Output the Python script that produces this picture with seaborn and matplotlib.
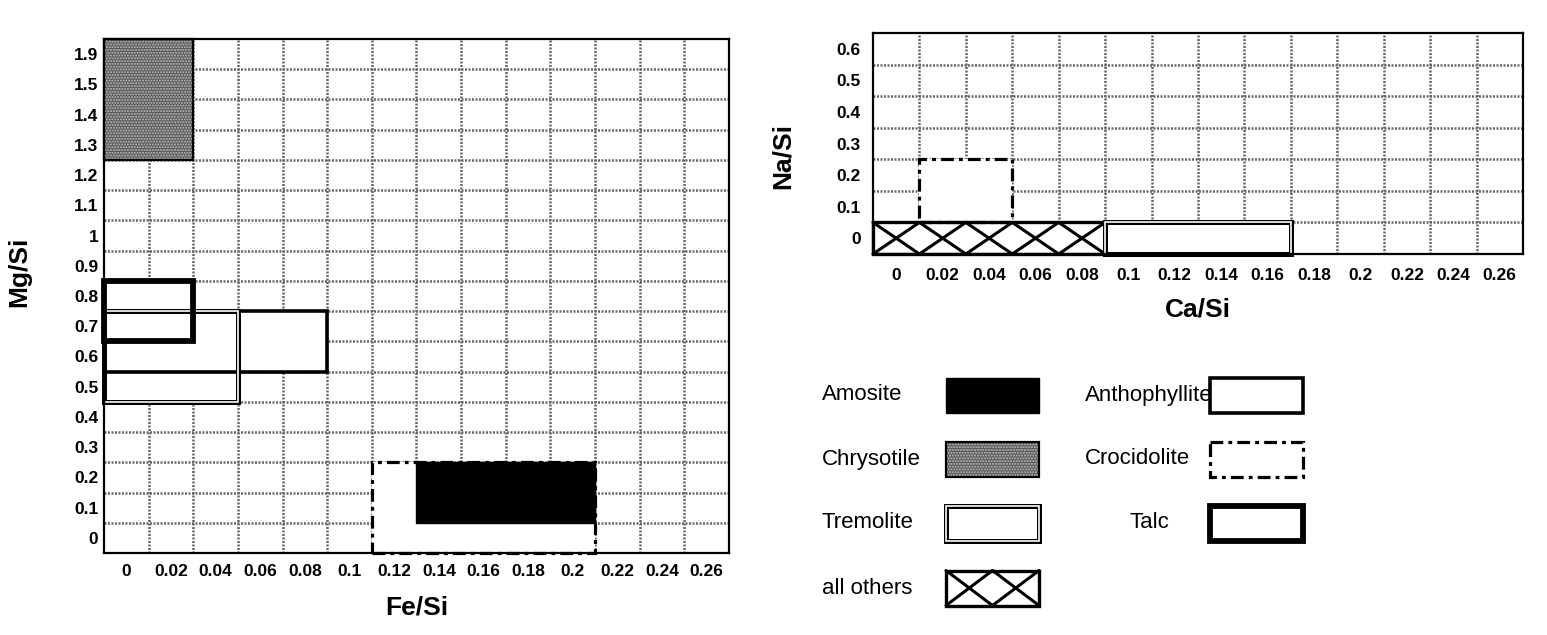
import matplotlib
matplotlib.use("Agg")
import matplotlib.pyplot as plt
from matplotlib.patches import Rectangle
import seaborn as sns

# category labels of both diagrams (y labels listed bottom to top)
FE_LABELS = ["0", "0.02", "0.04", "0.06", "0.08", "0.1", "0.12", "0.14",
             "0.16", "0.18", "0.2", "0.22", "0.24", "0.26"]
MG_LABELS = ["0", "0.1", "0.2", "0.3", "0.4", "0.5", "0.6", "0.7", "0.8",
             "0.9", "1", "1.1", "1.2", "1.3", "1.4", "1.5", "1.9"]
CA_LABELS = ["0", "0.02", "0.04", "0.06", "0.08", "0.1", "0.12", "0.14",
             "0.16", "0.18", "0.2", "0.22", "0.24", "0.26"]
NA_LABELS = ["0", "0.1", "0.2", "0.3", "0.4", "0.5", "0.6"]

# mineral fields in the Fe/Si - Mg/Si diagram (first and last category, inclusive)
FE_MG_FIELDS = ["Tremolite", "Anthophyllite", "Talc", "Crocidolite", "Amosite", "Chrysotile"]
FE_FROM = ["0", "0", "0", "0.12", "0.14", "0"]
FE_TO = ["0.04", "0.08", "0.02", "0.2", "0.2", "0.02"]
MG_FROM = ["0.5", "0.6", "0.7", "0", "0.1", "1.3"]
MG_TO = ["0.7", "0.7", "0.8", "0.2", "0.2", "1.9"]

# mineral fields in the Ca/Si - Na/Si diagram
CA_NA_FIELDS = ["all others", "Tremolite", "Crocidolite"]
CA_FROM = ["0", "0.1", "0.02"]
CA_TO = ["0.08", "0.16", "0.04"]
NA_FROM = ["0", "0", "0.1"]
NA_TO = ["0", "0", "0.2"]

# legend entries, two columns
LEGEND_LEFT = ["Amosite", "Chrysotile", "Tremolite", "all others"]
LEGEND_RIGHT = ["Anthophyllite", "Crocidolite", "Talc"]

sns.set_theme(style="white")
plt.rcParams["font.family"] = ["Liberation Sans", "DejaVu Sans"]
plt.rcParams["text.color"] = "black"
plt.rcParams["axes.labelcolor"] = "black"


#draw one mineral field as a box with its own border / fill style
def draw_field(ax, x0, y0, w, h, name, ncross=1, clip=False):
    kw = dict(clip_on=clip)
    if name == "Amosite":
        ax.add_patch(Rectangle((x0, y0), w, h, facecolor="black", edgecolor="black", lw=1, zorder=5, **kw))
        return
    if name == "Chrysotile":
        ax.add_patch(Rectangle((x0, y0), w, h, facecolor="0.35", edgecolor="0.75", hatch="......", lw=0, zorder=2, **kw))
        ax.add_patch(Rectangle((x0, y0), w, h, fill=False, edgecolor="black", lw=1.6, zorder=3, **kw))
        return
    ax.add_patch(Rectangle((x0, y0), w, h, facecolor="white", lw=0, zorder=2, **kw))
    if name == "Tremolite":
        ax.add_patch(Rectangle((x0, y0), w, h, fill=False, edgecolor="black", lw=3.6, zorder=3, **kw))
        ax.add_patch(Rectangle((x0, y0), w, h, fill=False, edgecolor="white", lw=1.2, zorder=3.1, **kw))
    elif name == "all others":
        step = w / ncross
        for k in range(ncross):
            xa = x0 + k * step
            ax.plot([xa, xa + step], [y0, y0 + h], color="black", lw=2.2, zorder=3, **kw)
            ax.plot([xa, xa + step], [y0 + h, y0], color="black", lw=2.2, zorder=3, **kw)
        ax.add_patch(Rectangle((x0, y0), w, h, fill=False, edgecolor="black", lw=2.4, zorder=3, **kw))
    elif name == "Anthophyllite":
        ax.add_patch(Rectangle((x0, y0), w, h, fill=False, edgecolor="black", lw=2.6, zorder=3, **kw))
    elif name == "Crocidolite":
        ax.add_patch(Rectangle((x0, y0), w, h, fill=False, edgecolor="black", lw=2.3,
                               linestyle=(0, (4, 1.6, 1.2, 1.6)), zorder=3, **kw))
    elif name == "Talc":
        ax.add_patch(Rectangle((x0, y0), w, h, fill=False, edgecolor="black", lw=4.2, zorder=3.5, **kw))


#categorical grid with labels on the cell centres and dotted lines on the cell borders
def setup_grid(ax, xlabels, ylabels, xpad, ypad):
    nx, ny = len(xlabels), len(ylabels)
    ax.set_xlim(-0.5, nx - 0.5)
    ax.set_ylim(-0.5, ny - 0.5)
    ax.set_xticks(range(nx))
    ax.set_xticklabels(xlabels, fontsize=12.5, fontweight="bold")
    ax.set_yticks(range(ny))
    ax.set_yticklabels(ylabels, fontsize=12.5, fontweight="bold")
    ax.set_xticks([i + 0.5 for i in range(nx - 1)], minor=True)
    ax.set_yticks([i + 0.5 for i in range(ny - 1)], minor=True)
    ax.tick_params(which="both", length=0, colors="black")
    ax.tick_params(axis="x", pad=xpad)
    ax.tick_params(axis="y", pad=ypad)
    ax.grid(False, which="major")
    ax.grid(True, which="minor", color="0.4", linestyle=(0, (0.8, 0.6)), lw=1.8)
    ax.set_axisbelow(True)
    for spine in ax.spines.values():
        spine.set_color("black")
        spine.set_linewidth(1.6)
        spine.set_zorder(4)


def add_fields(ax, names, xfrom, xto, yfrom, yto, xlabels, ylabels):
    for name, a, b, c, d in zip(names, xfrom, xto, yfrom, yto):
        i0, i1 = xlabels.index(a), xlabels.index(b)
        j0, j1 = ylabels.index(c), ylabels.index(d)
        draw_field(ax, i0 - 0.5, j0 - 0.5, i1 - i0 + 1, j1 - j0 + 1, name, ncross=i1 - i0 + 1)


fig = plt.figure(figsize=(15.47, 6.35), dpi=100)

# left: Fe/Si vs Mg/Si
ax1 = fig.add_axes([104 / 1547, 82 / 635, 625 / 1547, 514 / 635])
setup_grid(ax1, FE_LABELS, MG_LABELS, xpad=8, ypad=4)
add_fields(ax1, FE_MG_FIELDS, FE_FROM, FE_TO, MG_FROM, MG_TO, FE_LABELS, MG_LABELS)
ax1.set_xlabel("Fe/Si", fontsize=19, fontweight="bold")
ax1.set_ylabel("Mg/Si", fontsize=19, fontweight="bold")
ax1.xaxis.set_label_coords(0.5, -0.082)
ax1.yaxis.set_label_coords(-0.117, 0.547)

# right: Ca/Si vs Na/Si
ax2 = fig.add_axes([873 / 1547, 381 / 635, 650 / 1547, 221 / 635])
setup_grid(ax2, CA_LABELS, NA_LABELS, xpad=10, ypad=9)
add_fields(ax2, CA_NA_FIELDS, CA_FROM, CA_TO, NA_FROM, NA_TO, CA_LABELS, NA_LABELS)
ax2.set_xlabel("Ca/Si", fontsize=19, fontweight="bold")
ax2.set_ylabel("Na/Si", fontsize=19, fontweight="bold")
ax2.xaxis.set_label_coords(0.5, -0.199)
ax2.yaxis.set_label_coords(-0.12, 0.443)

# legend drawn in pixel coordinates of the figure
lax = fig.add_axes([0, 0, 1, 1])
lax.set_xlim(0, 1547)
lax.set_ylim(635, 0)
lax.axis("off")
row_y = [395, 459, 523, 588]
sw_w, sw_h = 93, 35
for name, yc in zip(LEGEND_LEFT, row_y):
    lax.text(822, yc, name, fontsize=16, va="center", ha="left")
    draw_field(lax, 946, yc - sw_h / 2, sw_w, sw_h, name, ncross=2)
for name, yc in zip(LEGEND_RIGHT, row_y):
    tx = 1130 if name == "Talc" else 1085
    lax.text(tx, yc, name, fontsize=16, va="center", ha="left")
    draw_field(lax, 1210, yc - sw_h / 2, sw_w, sw_h, name)

fig.savefig("out.png", dpi=100, facecolor="white")
